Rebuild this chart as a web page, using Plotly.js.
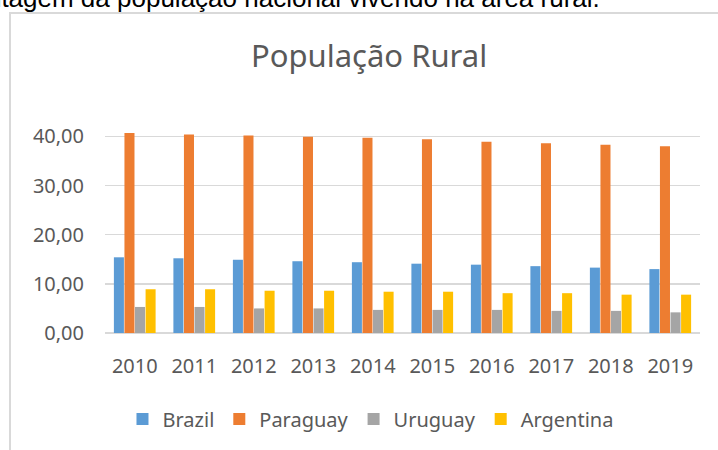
<!DOCTYPE html>
<html>
<head>
<meta charset="utf-8">
<script src="https://cdn.plot.ly/plotly-3.0.1.min.js"></script>
<style>
  html, body { margin: 0; padding: 0; width: 718px; height: 450px; overflow: hidden; background: #ffffff; }
  #caption { position: absolute; left: -81px; top: -15px; font-family: "Liberation Sans", Arial, sans-serif; font-size: 26px; line-height: 26px; color: #000; white-space: nowrap; }
  #frame { position: absolute; left: 9px; top: 12px; width: 800px; height: 500px; border-left: 2px solid #d9d9d9; border-top: 2px solid #d9d9d9; }
  #chart { position: absolute; left: 0; top: 0; width: 718px; height: 450px; }
</style>
</head>
<body>
<div id="caption">Porcentagem da população nacional vivendo na área rural.</div>
<div id="frame"></div>
<div id="chart"></div>
<script>
const years = ['2010','2011','2012','2013','2014','2015','2016','2017','2018','2019'];
const brazil    = [15.4, 15.2, 14.9, 14.6, 14.4, 14.1, 13.9, 13.6, 13.3, 13.0];
const paraguay  = [40.7, 40.4, 40.2, 39.9, 39.7, 39.4, 38.9, 38.6, 38.3, 38.0];
const uruguay   = [5.3, 5.3, 5.0, 5.0, 4.7, 4.7, 4.7, 4.5, 4.5, 4.2];
const argentina = [8.9, 8.9, 8.6, 8.6, 8.4, 8.4, 8.1, 8.1, 7.8, 7.8];
const seriesNames = ['Brazil', 'Paraguay', 'Uruguay', 'Argentina'];
const seriesColors = ['#5b9bd5', '#ed7d31', '#a5a5a5', '#ffc000'];
const yTicks = [0, 10, 20, 30, 40];

const values = [brazil, paraguay, uruguay, argentina];
const traces = values.map((v, i) => ({
  type: 'bar',
  name: seriesNames[i],
  x: years,
  y: v,
  marker: { color: seriesColors[i] },
  hoverinfo: 'none'
}));

const font = { family: '"Noto Sans", "Open Sans", sans-serif', color: '#595959' };

const layout = {
  width: 718,
  height: 450,
  paper_bgcolor: 'rgba(0,0,0,0)',
  plot_bgcolor: 'rgba(0,0,0,0)',
  separators: ', ',
  margin: { l: 105, r: 18, t: 129, b: 117, pad: 0 },
  barmode: 'group',
  bargap: 0.29,
  bargroupgap: 0.05,
  title: {
    text: 'População Rural',
    font: Object.assign({}, font, { size: 31 }),
    x: 0.514, xanchor: 'center', xref: 'container',
    y: 0.876, yanchor: 'middle', yref: 'container'
  },
  xaxis: {
    type: 'category',
    tickfont: Object.assign({}, font, { size: 20 }),
    showgrid: false,
    showline: false,
    zeroline: false,
    ticks: '',
    ticklabelstandoff: 19
  },
  yaxis: {
    range: [0, 41.5],
    tickvals: yTicks,
    tickformat: '.2f',
    tickfont: Object.assign({}, font, { size: 20 }),
    showgrid: true,
    gridcolor: '#d9d9d9',
    gridwidth: 1.5,
    zeroline: true,
    zerolinecolor: '#d9d9d9',
    zerolinewidth: 1.5,
    showline: false,
    ticks: '',
    ticklabelstandoff: 20
  },
  showlegend: true,
  legend: {
    orientation: 'h',
    xref: 'container', yref: 'container',
    x: 0.516, xanchor: 'center',
    y: 0.069, yanchor: 'middle',
    font: Object.assign({}, font, { size: 20 }),
    itemwidth: 30,
    traceorder: 'normal'
  }
};

Plotly.newPlot('chart', traces, layout, { displayModeBar: false, staticPlot: true });
</script>
</body>
</html>
